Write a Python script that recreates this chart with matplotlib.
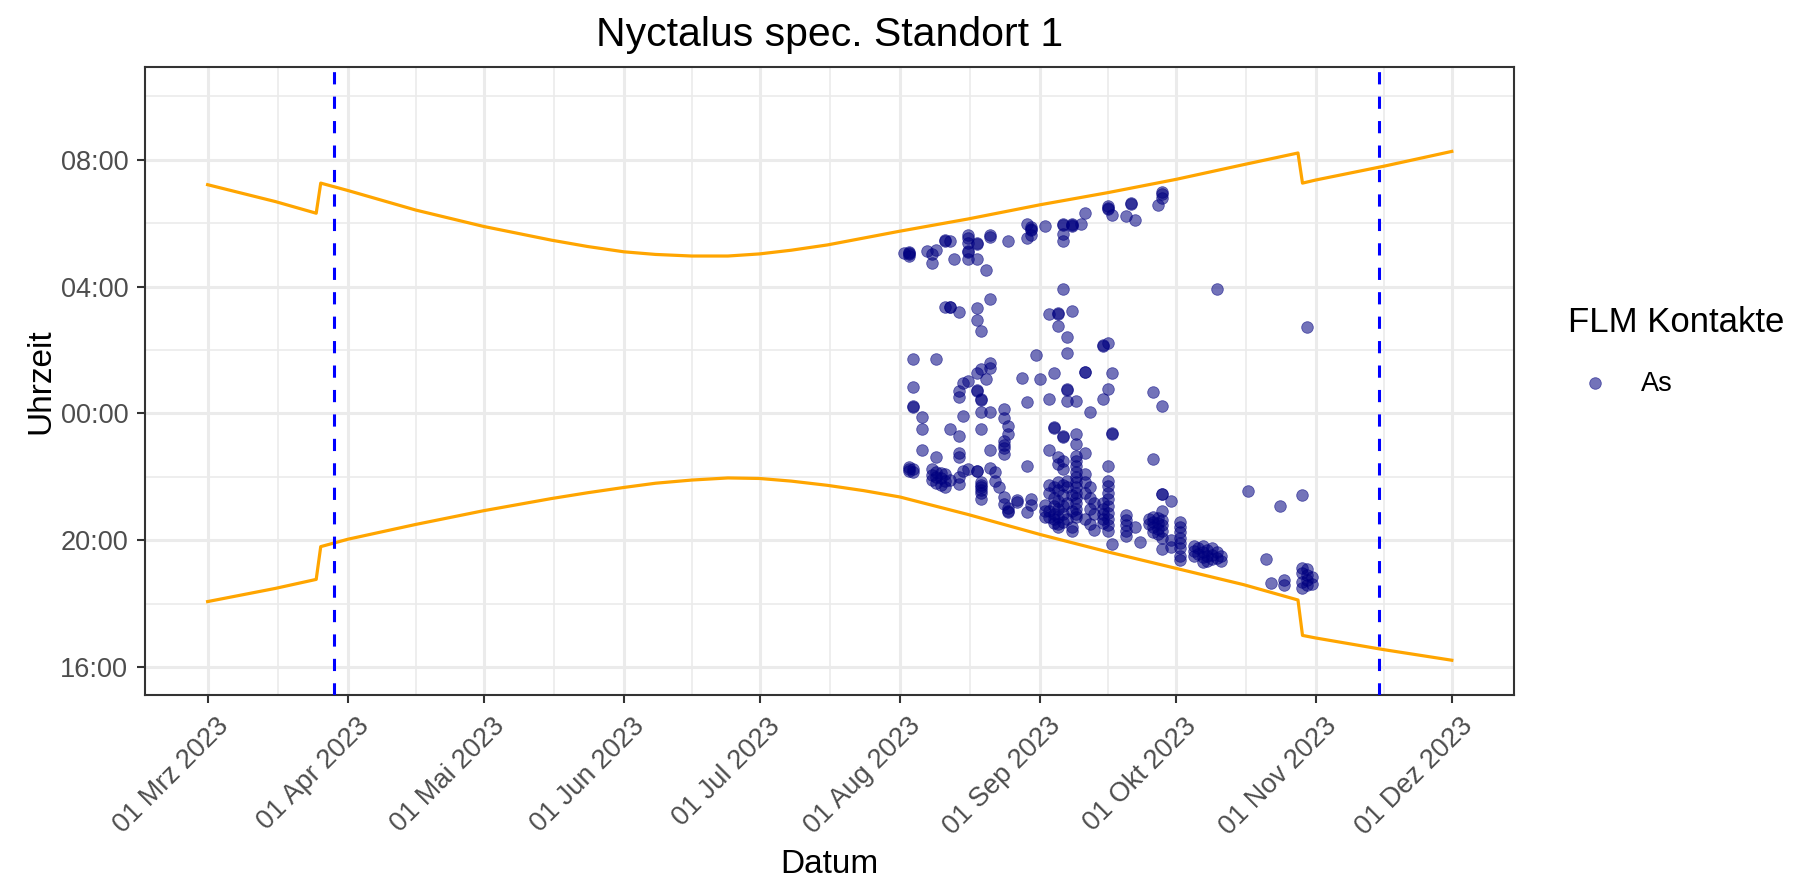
import numpy as np
import pandas as pd
import matplotlib
matplotlib.use("Agg")
import matplotlib.pyplot as plt
import matplotlib.dates as mdates
from matplotlib.transforms import ScaledTranslation

plt.rcParams['font.family'] = ['Liberation Sans', 'DejaVu Sans']

# Sonnenaufgang / Sonnenuntergang
sonne_datum = ["03-01", "03-16", "03-25", "03-26", "04-01", "04-16", "05-01", "05-16", "05-24",
               "06-01", "06-08", "06-16", "06-24", "07-01", "07-08", "07-16", "07-24", "08-01",
               "08-16", "09-01", "09-16", "10-01", "10-16", "10-28", "10-29", "11-01", "11-16", "12-01"]
sonnenaufgang = ["07:13", "06:41", "06:19", "07:16", "07:02", "06:25", "05:54", "05:28", "05:16",
                 "05:06", "05:01", "04:58", "04:58", "05:02", "05:09", "05:19", "05:32", "05:45",
                 "06:08", "06:35", "06:58", "07:23", "07:51", "08:13", "07:16", "07:22", "07:48", "08:16"]
sonnenuntergang = ["18:04", "18:29", "18:46", "19:48", "20:02", "20:30", "20:56", "21:19", "21:30",
                   "21:40", "21:48", "21:54", "21:58", "21:57", "21:52", "21:44", "21:34", "21:22",
                   "20:49", "20:11", "19:38", "19:07", "18:36", "18:07", "17:00", "16:55", "16:33", "16:13"]

# Erfassungszeitraum
zeitraum = ["03-29", "11-15"]

# FLM Kontakte (Datum Uhrzeit)
kontakte_morgen = [
    "08-02 05:04", "08-03 05:04", "08-03 05:02", "08-03 05:06", "08-03 04:58", "08-07 05:07",
    "08-08 04:45", "08-08 05:01", "08-09 05:10", "08-11 05:29", "08-11 05:27", "08-12 05:26",
    "08-13 04:52", "08-16 05:38", "08-16 05:32", "08-16 05:23", "08-16 05:07", "08-16 05:05",
    "08-16 04:52", "08-18 05:23", "08-18 05:21", "08-18 04:52", "08-20 04:32", "08-21 05:38",
    "08-21 05:34", "08-25 05:26", "08-29 05:58", "08-29 05:32", "08-30 05:52", "08-30 05:50",
    "08-30 05:48", "08-30 05:38", "09-02 05:54", "09-06 05:58", "09-06 05:56", "09-06 05:40",
    "09-06 05:27", "09-08 05:58", "09-08 05:57", "09-08 05:55", "09-10 05:58", "09-11 06:19",
    "09-16 06:29", "09-16 06:27", "09-16 06:32", "09-17 06:16", "09-20 06:13", "09-21 06:38",
    "09-21 06:37", "09-22 06:07", "09-27 06:35", "09-28 07:00", "09-28 06:55", "09-28 06:48",
]
kontakte_nacht = [
    "09-06 03:55", "08-11 03:22", "08-12 03:22", "08-12 03:21", "08-14 03:13", "08-18 03:19",
    "08-18 02:56", "08-19 02:36", "08-21 03:36", "09-03 03:08", "09-05 03:10", "09-05 03:09",
    "09-08 03:14", "09-05 02:46", "09-07 02:25", "09-07 01:55", "08-31 01:51", "09-15 02:09",
    "09-15 02:08", "09-16 02:13", "08-04 01:43", "08-09 01:43", "08-04 00:50", "08-04 00:14",
    "08-04 00:13", "08-06 23:53", "08-06 23:31", "08-14 00:43", "08-14 00:31", "08-15 00:57",
    "08-16 01:01", "08-18 00:44", "08-18 00:43", "08-19 00:27", "08-19 00:26", "08-18 01:17",
    "08-19 01:24", "08-21 01:35", "08-21 01:27", "08-20 01:05", "08-15 23:56", "08-12 23:31",
    "08-14 23:18", "08-19 00:02", "08-21 00:02", "08-19 23:31", "08-24 00:08", "08-24 23:52",
    "08-25 23:37", "08-25 23:21", "08-28 01:07", "09-01 01:05", "08-29 00:21", "09-04 01:17",
    "09-03 00:27", "09-07 00:46", "09-07 00:45", "09-07 00:24", "09-09 00:24", "09-11 01:19",
    "09-11 01:18", "09-12 00:02", "09-15 00:27", "09-16 00:46", "09-17 01:16", "09-26 00:40",
    "09-28 00:14", "09-04 23:32", "09-06 23:18", "09-09 23:21", "09-17 23:23", "10-10 03:56",
    "10-30 02:44", "08-24 23:08", "08-24 23:00", "08-24 22:54", "08-24 22:43", "09-04 23:34",
    "09-06 23:15", "09-09 23:02", "09-17 23:21",
]
kontakte_abend = [
    "08-06 22:51", "08-09 22:38", "08-03 22:18", "08-03 22:12", "08-04 22:09", "08-03 22:15",
    "08-04 22:14", "08-08 22:14", "08-08 22:04", "08-08 21:55", "08-09 22:10", "08-09 22:00",
    "08-09 21:48", "08-10 22:08", "08-10 21:58", "08-10 21:45", "08-11 22:05", "08-11 21:52",
    "08-11 21:40", "08-12 21:55", "08-14 22:46", "08-14 22:37", "08-14 21:59", "08-14 21:47",
    "08-15 22:12", "08-16 22:15", "08-18 22:12", "08-18 22:11", "08-19 21:50", "08-19 21:45",
    "08-19 21:40", "08-19 21:35", "08-19 21:30", "08-19 21:18", "08-21 22:50", "08-21 22:17",
    "08-22 22:09", "08-22 21:53", "08-23 21:40", "08-24 21:22", "08-24 21:09", "08-25 21:02",
    "08-25 20:53", "08-25 20:55", "08-27 21:12", "08-27 21:16", "08-29 22:21", "08-29 20:53",
    "08-30 21:19", "08-30 21:06", "09-02 21:06", "09-02 20:55", "09-02 20:45", "09-03 20:55",
    "09-03 20:45", "09-04 20:50", "09-04 20:40", "09-04 20:32", "09-05 20:45", "09-05 20:30",
    "09-05 20:25", "09-06 20:35", "09-03 21:45", "09-03 21:30", "09-04 21:40", "09-04 21:20",
    "09-04 21:05", "09-05 21:50", "09-05 21:35", "09-05 21:15", "09-05 21:00", "09-06 21:45",
    "09-06 21:25", "09-06 21:05", "09-06 20:50", "09-03 22:50", "09-05 22:38", "09-05 22:25",
    "09-06 22:15", "09-06 22:30", "09-09 22:40", "09-09 22:30", "09-09 22:20", "09-09 22:10",
    "09-09 22:00", "09-09 21:50", "09-09 21:40", "09-09 21:30", "09-09 21:20", "09-09 21:10",
    "09-09 21:00", "09-09 20:50", "09-09 20:44", "09-07 21:53", "09-07 21:40", "09-08 21:25",
    "09-07 21:10", "09-08 20:55", "09-07 20:40", "09-08 20:25", "09-08 20:18", "09-11 22:46",
    "09-11 22:05", "09-11 21:50", "09-12 21:40", "09-11 21:30", "09-12 21:20", "09-13 21:10",
    "09-12 21:00", "09-13 20:50", "09-11 20:40", "09-12 20:30", "09-13 20:20", "09-16 22:21",
    "09-16 21:53", "09-16 21:42", "09-16 21:30", "09-16 21:18", "09-16 21:05", "09-16 20:52",
    "09-16 20:40", "09-16 20:28", "09-16 20:18", "09-15 21:10", "09-15 21:00", "09-15 20:50",
    "09-15 20:40", "09-15 20:32", "09-17 19:53", "09-20 20:48", "09-20 20:38", "09-20 20:28",
    "09-20 20:18", "09-20 20:08", "09-22 20:25", "09-23 19:56", "09-26 22:34", "09-28 21:28",
    "09-28 21:27", "09-30 21:15", "09-28 20:56", "09-25 20:40", "09-25 20:30", "09-26 20:45",
    "09-26 20:35", "09-26 20:25", "09-26 20:15", "09-27 20:42", "09-27 20:32", "09-27 20:22",
    "09-27 20:12", "09-28 20:38", "09-28 20:28", "09-28 20:18", "09-28 20:05", "09-28 19:44",
    "10-02 20:34", "10-02 20:25", "10-02 20:15", "10-02 20:05", "10-02 19:55", "10-02 19:45",
    "10-02 19:30", "10-02 19:22", "09-30 20:00", "09-30 19:48", "10-05 19:50", "10-05 19:40",
    "10-05 19:30", "10-06 19:45", "10-06 19:35", "10-07 19:50", "10-07 19:38", "10-07 19:28",
    "10-07 19:18", "10-08 19:42", "10-08 19:30", "10-08 19:20", "10-09 19:45", "10-09 19:33",
    "10-09 19:24", "10-10 19:38", "10-10 19:26", "10-11 19:30", "10-11 19:20", "10-17 21:33",
    "10-24 21:04", "10-29 21:26", "10-21 19:25", "10-22 18:40", "10-25 18:44", "10-25 18:35",
    "10-29 19:08", "10-30 19:05", "10-29 18:58", "10-30 18:55", "10-31 18:50", "10-30 18:45",
    "10-29 18:42", "10-31 18:38", "10-30 18:35", "10-29 18:30",
]

monat_labels = ["01 Mrz 2023", "01 Apr 2023", "01 Mai 2023", "01 Jun 2023", "01 Jul 2023",
                "01 Aug 2023", "01 Sep 2023", "01 Okt 2023", "01 Nov 2023", "01 Dez 2023"]
zeit_labels = ["16:00", "20:00", "00:00", "04:00", "08:00"]


def datum(md):
    return mdates.date2num(pd.Timestamp("2023-" + md))


def stunden(hhmm):
    # Stunden ab 12:00 Mittag, damit die Nacht zusammenhaengt
    h, m = hhmm.split(":")
    t = int(h) + int(m) / 60
    return t - 12 if t >= 12 else t + 12


kontakte = kontakte_morgen + kontakte_nacht + kontakte_abend
kx = [datum(k.split()[0]) for k in kontakte]
ky = [stunden(k.split()[1]) for k in kontakte]

fig = plt.figure(figsize=(17.93, 8.84), dpi=100)
ax = fig.add_axes([0.0811, 0.2138, 0.7633, 0.7108])

sc = ax.scatter(kx, ky, s=70, color='#000080', alpha=0.55, edgecolors='#000080',
                linewidths=0.6, zorder=2)
sx = [datum(d) for d in sonne_datum]
ax.plot(sx, [stunden(t) for t in sonnenaufgang], color='#FFA500', lw=2.3, zorder=3)
ax.plot(sx, [stunden(t) for t in sonnenuntergang], color='#FFA500', lw=2.3, zorder=3)
for d in zeitraum:
    ax.axvline(datum(d), color='#0000FF', lw=2.2, dashes=(4, 4), zorder=4)

x0, x1 = datum("03-01"), datum("12-01")
ax.set_xlim(x0 - 13.75, x1 + 13.75)
ax.set_ylim(3.12, 22.94)

monate = [mdates.date2num(d) for d in pd.date_range("2023-03-01", "2023-12-01", freq="MS")]
ax.set_xticks(monate)
ax.set_xticklabels(monat_labels)
ax.set_xticks([(a + b) / 2 for a, b in zip(monate[:-1], monate[1:])], minor=True)
ax.set_yticks([4, 8, 12, 16, 20])
ax.set_yticklabels(zeit_labels)
ax.set_yticks([6, 10, 14, 18, 22], minor=True)

ax.set_axisbelow(True)
ax.grid(which='major', color='#EBEBEB', lw=2.2)
ax.grid(which='minor', color='#EBEBEB', lw=1.2)
for sp in ax.spines.values():
    sp.set_color('#333333')
    sp.set_linewidth(1.5)

ax.tick_params(which='major', length=5.8, width=1.5, color='#333333',
               labelsize=19.5, labelcolor='#4D4D4D')
ax.tick_params(axis='y', pad=6.5)
ax.tick_params(axis='x', pad=7.2)
ax.tick_params(which='minor', length=0)
shift = ScaledTranslation(0.08, 0, fig.dpi_scale_trans)
for lab in ax.get_xticklabels():
    lab.set_rotation(45)
    lab.set_ha('right')
    lab.set_va('top')
    lab.set_rotation_mode('anchor')
    lab.set_transform(lab.get_transform() + shift)

ax.set_title("Nyctalus spec. Standort 1", fontsize=29.5, pad=15)
ax.set_xlabel("Datum", fontsize=24)
ax.set_ylabel("Uhrzeit", fontsize=24)
ax.xaxis.set_label_coords(0.5, -0.245)
ax.yaxis.set_label_coords(-0.0654, 0.5)

leg = ax.legend([sc], ["As"], title="FLM Kontakte", loc="upper left",
                bbox_to_anchor=(0.8745, 0.6534), bbox_transform=fig.transFigure,
                frameon=False, borderpad=0, borderaxespad=0, handlelength=2.0,
                handletextpad=0.7, labelspacing=1.15, fontsize=19.5, title_fontsize=25,
                alignment='left', scatterpoints=1)

fig.savefig("out.png", dpi=100)
